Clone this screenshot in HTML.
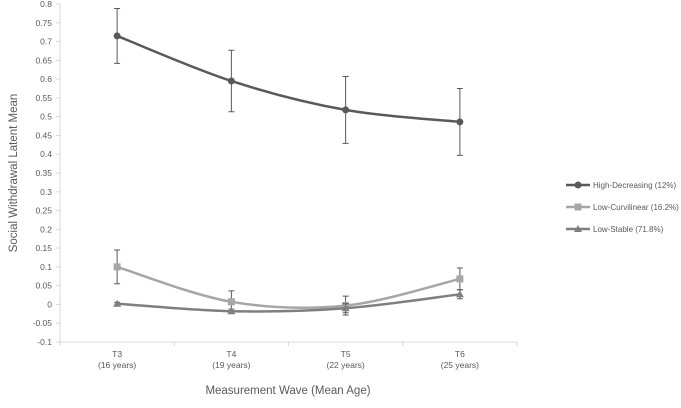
<!DOCTYPE html>
<html><head><meta charset="utf-8"><style>
body{margin:0;background:#fff;}
text{font-family:"Liberation Sans",sans-serif;fill:#595959;}
</style></head><body>
<svg id="chart" width="681" height="403"></svg>
<script>
const categories=["T3","T4","T5","T6"];
const ages=["(16 years)","(19 years)","(22 years)","(25 years)"];
const yTicks=[-0.1,-0.05,0,0.05,0.1,0.15,0.2,0.25,0.3,0.35,0.4,0.45,0.5,0.55,0.6,0.65,0.7,0.75,0.8];
const seriesNames=["High-Decreasing (12%)","Low-Curvilinear (16.2%)","Low-Stable (71.8%)"];
const highVals=[0.715,0.595,0.518,0.486];
const highErr=[0.073,0.082,0.089,0.089];
const curvVals=[0.1,0.007,-0.003,0.068];
const curvErr=[0.045,0.029,0.025,0.029];
const stableVals=[0.002,-0.018,-0.01,0.027];
const stableErr=[0.004,0.006,0.012,0.012];
const svg=document.getElementById('chart');
const NS='http://www.w3.org/2000/svg';
const X0=60,X1=517,Y0=4,Y1=342,YMIN=-0.1,YMAX=0.8;
const bw=(X1-X0)/categories.length;
const xs=i=>X0+bw*(i+0.5);
const ys=v=>Y1-(v-YMIN)/(YMAX-YMIN)*(Y1-Y0);
function mk(t,a,p){const e=document.createElementNS(NS,t);for(const k in a)e.setAttribute(k,a[k]);(p||svg).appendChild(e);return e;}
// axes
let ax=mk('line',{x1:X0,y1:Y0,x2:X0,y2:Y1,stroke:'#d9d9d9'});


let bx=mk('line',{x1:X0,y1:Y1,x2:X1,y2:Y1,stroke:'#d9d9d9'});


yTicks.forEach(v=>{
 mk('line',{x1:X0-4,y1:ys(v),x2:X0,y2:ys(v),stroke:'#d9d9d9'});
 const t=mk('text',{x:X0-8,y:ys(v)+3,'text-anchor':'end','font-size':'8.5'});t.textContent=String(v);
 
 
});
for(let i=0;i<=categories.length;i++)mk('line',{x1:X0+bw*i,y1:Y1,x2:X0+bw*i,y2:Y1+4,stroke:'#d9d9d9'});
categories.forEach((c,i)=>{
 const t=mk('text',{x:xs(i),y:357,'text-anchor':'middle','font-size':'8.5'});t.textContent=c;
 
 
 const t2=mk('text',{x:xs(i),y:368,'text-anchor':'middle','font-size':'8.5'});t2.textContent=ages[i];
 
 
});
const yt=mk('text',{x:0,y:0,'text-anchor':'middle','font-size':'11.5',transform:'translate(17,173) rotate(-90)'});yt.textContent='Social Withdrawal Latent Mean';


const xt=mk('text',{x:288,y:394,'text-anchor':'middle','font-size':'11.5'});xt.textContent='Measurement Wave (Mean Age)';


function smooth(pts){let d=`M${pts[0][0]},${pts[0][1]}`;for(let i=0;i<pts.length-1;i++){const p0=pts[i-1]||pts[i],p1=pts[i],p2=pts[i+1],p3=pts[i+2]||p2;const c1=[p1[0]+(p2[0]-p0[0])/6,p1[1]+(p2[1]-p0[1])/6],c2=[p2[0]-(p3[0]-p1[0])/6,p2[1]-(p3[1]-p1[1])/6];d+=` C${c1[0]},${c1[1]} ${c2[0]},${c2[1]} ${p2[0]},${p2[1]}`;}return d;}
const series=[[highVals,highErr,'#595959','circle'],[curvVals,curvErr,'#a6a6a6','square'],[stableVals,stableErr,'#7f7f7f','triangle']];
function marker(type,x,y,c,g){if(type==='circle')return mk('circle',{cx:x,cy:y,r:3.5,fill:c},g);if(type==='square')return mk('rect',{x:x-3.5,y:y-3.5,width:7,height:7,fill:c},g);return mk('polygon',{points:`${x},${y-4} ${x+4},${y+3} ${x-4},${y+3}`,fill:c},g);}
series.forEach(([vals,err,c,type],si)=>{
 const g=mk('g',{});
 
 
 const pts=vals.map((v,i)=>[xs(i),ys(v)]);
 const p=mk('path',{d:smooth(pts),fill:'none',stroke:c,'stroke-width':2.5},g);
 
 
 vals.forEach((v,i)=>{
  const x=xs(i),a=ys(v+err[i]),b=ys(v-err[i]);
  mk('path',{d:`M${x},${a}V${b}M${x-3},${a}H${x+3}M${x-3},${b}H${x+3}`,stroke:'#595959','stroke-width':1,fill:'none'},g);
  const m=marker(type,x,ys(v),c,g);
  
  
 });
 const ly=185+si*22;
 const lg=mk('g',{});
 
 
 mk('line',{x1:566,y1:ly,x2:590,y2:ly,stroke:c,'stroke-width':2.5},lg);
 marker(type,578,ly,c,lg);
 const lt=mk('text',{x:593,y:ly+3,'font-size':'8'},lg);lt.textContent=seriesNames[si];
});
</script>
</body></html>
